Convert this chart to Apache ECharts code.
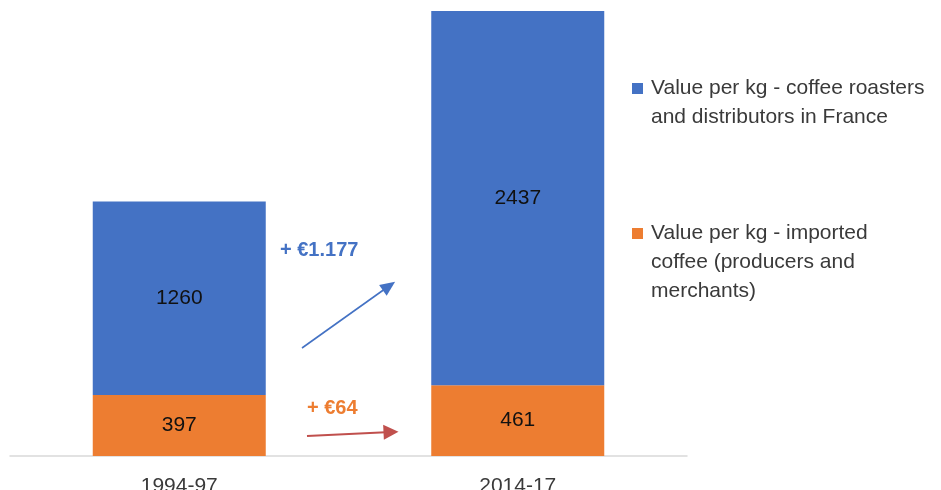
<!DOCTYPE html>
<html>
<head>
<meta charset="utf-8">
<script src="https://cdn.jsdelivr.net/npm/echarts@6/dist/echarts.min.js"></script>
<style>
  html, body { margin: 0; padding: 0; background: #fff; }
  #chart { width: 941px; height: 490px; }
</style>
</head>
<body>
<div id="chart"></div>
<script>
// Periods compared
const categories = ['1994-97', '2014-17'];
// Value per kg of imported coffee (producers and merchants)
const importedValues = [397, 461];
// Value per kg added by coffee roasters and distributors in France
const roasterValues = [1260, 2437];

const importedName = 'Value per kg - imported coffee (producers and merchants)';
const roasterName = 'Value per kg - coffee roasters and distributors in France';
const legendLines = {};
legendLines[roasterName] = ['Value per kg - coffee roasters', 'and distributors in France'];
legendLines[importedName] = ['Value per kg - imported', 'coffee (producers and', 'merchants)'];

const FONT = '"Liberation Sans", Arial, sans-serif';
const BLUE = '#4472C4';
const ORANGE = '#ED7D31';
const RED = '#C0504D';
const LINE_H = 29;

const totals = categories.map((c, i) => importedValues[i] + roasterValues[i]);
const yMax = Math.max.apply(null, totals);

// European formatting of the increases, e.g. 1177 -> "1.177"
function euro(v) {
  return '+ \u20AC' + String(v).replace(/\B(?=(\d{3})+(?!\d))/g, '.');
}
const roasterGain = roasterValues[1] - roasterValues[0];
const importedGain = importedValues[1] - importedValues[0];

// Legend text is vertically centred on the square; leading blank lines
// keep the first text line level with the square instead.
function legendFor(name, top) {
  return {
    data: [name],
    left: 632,
    top: top,
    padding: 0,
    orient: 'vertical',
    icon: 'rect',
    itemWidth: 11,
    itemHeight: 11,
    selectedMode: false,
    formatter: (nm) => {
      const lines = legendLines[nm];
      return '\n'.repeat(lines.length - 1) + lines.join('\n');
    },
    textStyle: {
      fontFamily: FONT,
      fontSize: 21,
      color: '#3a3a3a',
      lineHeight: LINE_H,
      padding: [0, 0, 0, 3]
    }
  };
}

const chart = echarts.init(document.getElementById('chart'));
chart.setOption({
  animation: false,
  grid: { left: 10, right: 254, top: 11, bottom: 34, outerBoundsMode: 'none', containLabel: false },
  legend: [
    legendFor(roasterName, 45),
    legendFor(importedName, 161)
  ],
  xAxis: {
    type: 'category',
    data: categories,
    axisLine: { lineStyle: { color: '#D9D9D9', width: 1.5 } },
    axisTick: { show: false },
    axisLabel: { fontFamily: FONT, fontSize: 21, color: '#3a3a3a', margin: 20 }
  },
  yAxis: {
    type: 'value',
    min: 0,
    max: yMax,
    show: false,
    splitLine: { show: false }
  },
  graphic: [
    {
      type: 'text', left: 280, top: 240,
      style: { text: euro(roasterGain), fill: BLUE, font: 'bold 20px ' + FONT }
    },
    {
      type: 'text', left: 307, top: 398,
      style: { text: euro(importedGain), fill: ORANGE, font: 'bold 20px ' + FONT }
    }
  ],
  series: [
    {
      name: importedName,
      type: 'bar',
      stack: 'total',
      barWidth: 173,
      data: importedValues,
      itemStyle: { color: ORANGE },
      label: { show: true, position: 'inside', fontFamily: FONT, fontSize: 21, color: '#111' }
    },
    {
      name: roasterName,
      type: 'bar',
      stack: 'total',
      barWidth: 173,
      data: roasterValues,
      itemStyle: { color: BLUE },
      label: { show: true, position: 'inside', fontFamily: FONT, fontSize: 21, color: '#111' },
      markLine: {
        silent: true,
        animation: false,
        symbol: ['none', 'triangle'],
        label: { show: false },
        emphasis: { disabled: true },
        data: [
          [
            { x: 302, y: 348, symbolSize: [13, 15] },
            { x: 389, y: 286, symbolSize: [13, 15], lineStyle: { color: BLUE, width: 1.6, type: 'solid' }, itemStyle: { color: BLUE } }
          ],
          [
            { x: 307, y: 436, symbolSize: [15, 15] },
            { x: 391, y: 432, symbolSize: [15, 15], lineStyle: { color: RED, width: 2, type: 'solid' }, itemStyle: { color: RED } }
          ]
        ]
      }
    }
  ]
});
</script>
</body>
</html>
